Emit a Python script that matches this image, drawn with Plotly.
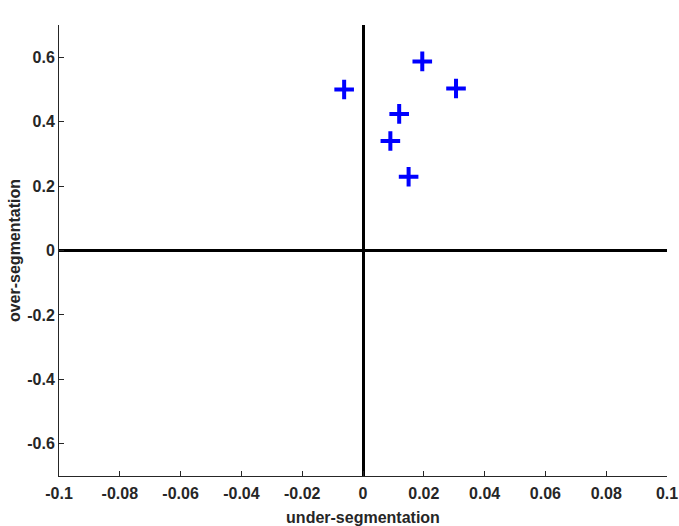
import plotly.graph_objects as go

# under-/over-segmentation scores per case
under_seg = [-0.0062, 0.0195, 0.0306, 0.0119, 0.0090, 0.0150]
over_seg = [0.500, 0.587, 0.503, 0.424, 0.340, 0.229]

x_ticks = [-0.1, -0.08, -0.06, -0.04, -0.02, 0, 0.02, 0.04, 0.06, 0.08, 0.1]
y_ticks = [-0.6, -0.4, -0.2, 0, 0.2, 0.4, 0.6]

fig = go.Figure()
fig.add_trace(go.Scatter(
    x=under_seg, y=over_seg, mode='markers',
    marker=dict(symbol='cross-thin', size=14, line=dict(color='#0000ff', width=4)),
    showlegend=False))

font = dict(family='Liberation Sans, Arial', size=16, color='#262626', weight='bold')
axis_common = dict(
    showgrid=False, zeroline=True, zerolinecolor='black', zerolinewidth=3,
    showline=True, linecolor='#262626', linewidth=1,
    ticks='inside', ticklen=5, tickcolor='#262626', tickfont=font,
    mirror=False, automargin=False)

fig.update_xaxes(range=[-0.1, 0.1], tickvals=x_ticks,
                 ticktext=['-0.1', '-0.08', '-0.06', '-0.04', '-0.02', '0', '0.02', '0.04', '0.06', '0.08', '0.1'],
                 ticklabelstandoff=3,
                 title=dict(text='under-segmentation', font=font, standoff=10), **axis_common)
fig.update_yaxes(range=[-0.7, 0.7], tickvals=y_ticks,
                 ticktext=['-0.6', '-0.4', '-0.2', '0', '0.2', '0.4', '0.6'],
                 title=dict(text='over-segmentation', font=font, standoff=2), **axis_common)

fig.update_layout(
    width=679, height=526,
    margin=dict(l=59, r=12, t=25, b=50),
    plot_bgcolor='white', paper_bgcolor='white')

# drop the default body margin so the figure fills the window exactly
fig.write_html("out.html", config={'displayModeBar': False},
               post_script="document.body.style.margin='0';")
